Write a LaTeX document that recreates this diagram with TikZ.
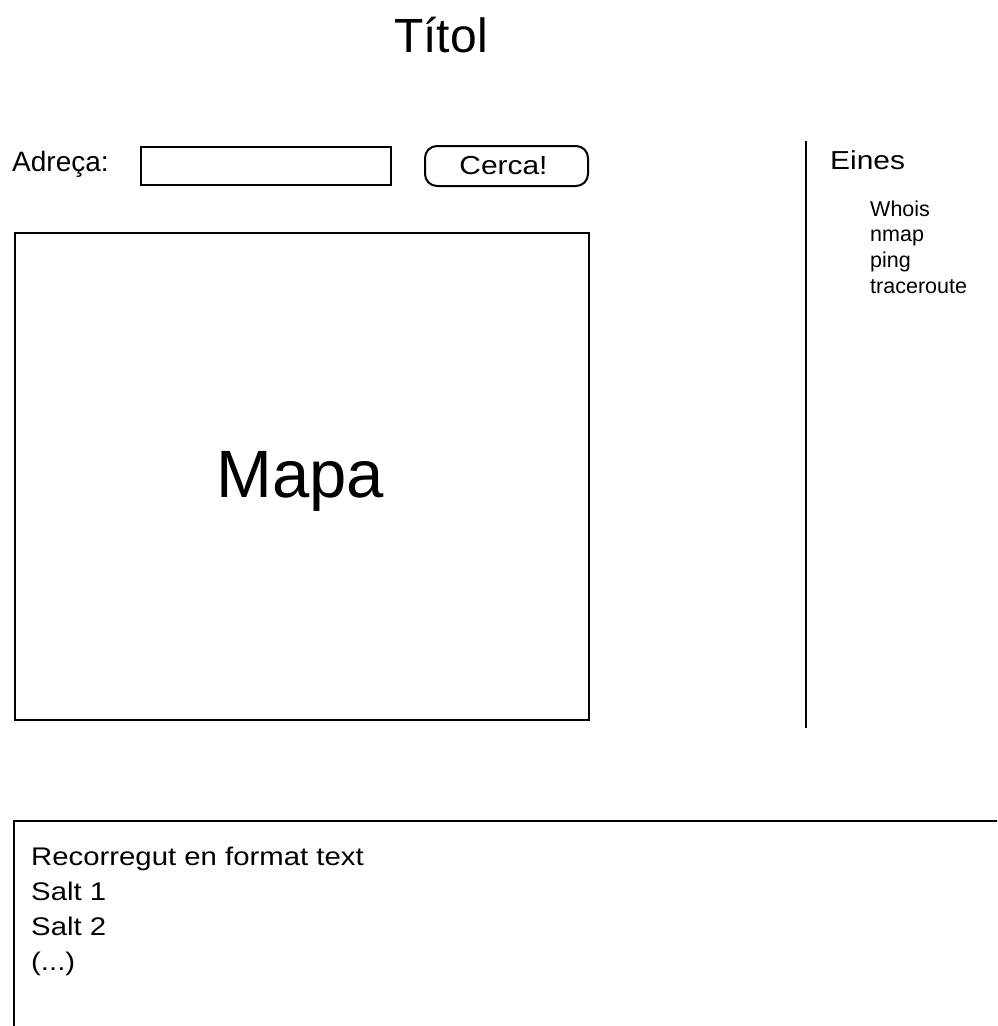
\documentclass[tikz,border=0pt]{standalone}
\usepackage{fontspec}
\setmainfont{Liberation Sans}
\newfontfamily\fN{Liberation Sans}
\newfontfamily\fW{Liberation Sans}[FakeStretch=1.15]
\newcommand\fsz[1]{\fontsize{#1}{#1}\selectfont}
\begin{document}
\begin{tikzpicture}[x=1pt,y=-1pt,
  frame/.style={draw, line width=2pt, inner sep=0pt, anchor=north west},
  lbl/.style={inner sep=0pt, anchor=base west},
  ctr/.style={inner sep=0pt, anchor=base},
  tool/.style={lbl, font=\fN\fsz{21.5}},
  route/.style={lbl, font=\fW\fsz{25.5}}]
\useasboundingbox (0,0) rectangle (997,1026);
\clip (0,0) rectangle (997,1026);
% title
\node[ctr] (title) at (441,52) {\fN\fsz{48}Títol};
% address bar
\node[lbl] (adreca) at (12,171) {\fN\fsz{28}Adreça:};
\node[frame, minimum width=250pt, minimum height=38pt] (field) at (140,146) {};
\node[frame, rounded corners=12pt, minimum width=163pt, minimum height=40pt] (cerca) at (424,145) {};
\node[ctr] (cercatxt) at (503.5,174) {\fW\fsz{26}Cerca!};
% map
\node[frame, minimum width=574pt, minimum height=487pt] (mapa) at (14,232) {};
\node[ctr] (mapatxt) at (300,497) {\fN\fsz{67}Mapa};
% separator
\coordinate (vtop) at (806,141);
\coordinate (vbot) at (806,728);
\draw[line width=2.5pt] (vtop) -- (vbot);
% tools
\node[lbl] (eines) at (830,169) {\fW\fsz{26}Eines};
\node[tool] (whois) at (870,216) {Whois};
\node[tool] (nmap) at (870,241.7) {nmap};
\node[tool] (ping) at (870,267.4) {ping};
\node[tool] (trace) at (870,293) {traceroute};
% route box
\node[frame, minimum width=1000pt, minimum height=300pt] (routebox) at (13,820) {};
\node[route] (r0) at (31,865) {Recorregut en format text};
\node[route] (r1) at (31,900) {Salt 1};
\node[route] (r2) at (31,935) {Salt 2};
\node[route] (r3) at (31,970) {(...)};
\end{tikzpicture}
\end{document}
